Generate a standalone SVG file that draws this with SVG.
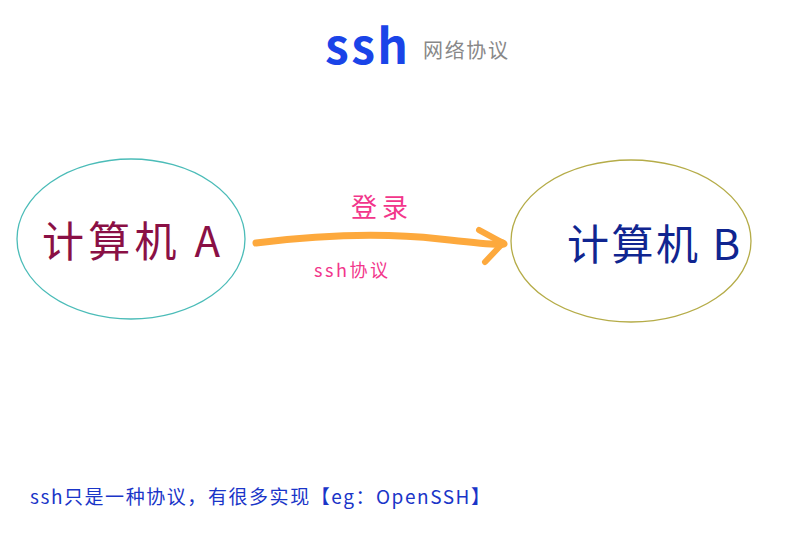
<svg xmlns="http://www.w3.org/2000/svg" width="800" height="544" viewBox="0 0 800 544">
<style>
.cjk{font-family:"Noto Sans CJK SC","Noto Sans",sans-serif}
</style>
<rect width="800" height="544" fill="#fff"/>
<g id="title">
<text x="325" y="64" class="cjk" font-size="48" font-weight="bold" fill="#1a44e8" textLength="83">ssh</text>
<text x="423" y="58" class="cjk" font-size="20" fill="#888" textLength="85">网络协议</text>
</g>
<g id="nodeA">
<ellipse cx="131" cy="239" rx="114" ry="80" fill="none" stroke="#4bbcb8" stroke-width="1.3"/>
<text x="42" y="257" class="cjk" font-size="42" fill="#8a1045" textLength="178">计算机 A</text>
</g>
<g id="nodeB">
<ellipse cx="631" cy="241" rx="120" ry="81" fill="none" stroke="#b5ac48" stroke-width="1.3"/>
<text x="567" y="260" class="cjk" font-size="42" fill="#102590" textLength="173">计算机 B</text>
</g>
<g id="connectors">
<path d="M256 243 Q360 230 440 239 T500 242" fill="none" stroke="#fda93d" stroke-width="7" stroke-linecap="round"/>
<path d="M479 230 L503 243 L485 262" fill="none" stroke="#fda93d" stroke-width="6" stroke-linecap="round" stroke-linejoin="round"/>
<text x="351" y="217" class="cjk" font-size="26" fill="#f2368b" textLength="57">登录</text>
<text x="314" y="277" class="cjk" font-size="18" fill="#f2368b" textLength="74">ssh协议</text>
</g>
<text x="30" y="504" class="cjk" font-size="19" fill="#1a35c8" textLength="460">ssh只是一种协议，有很多实现【eg：OpenSSH】</text>
</svg>
